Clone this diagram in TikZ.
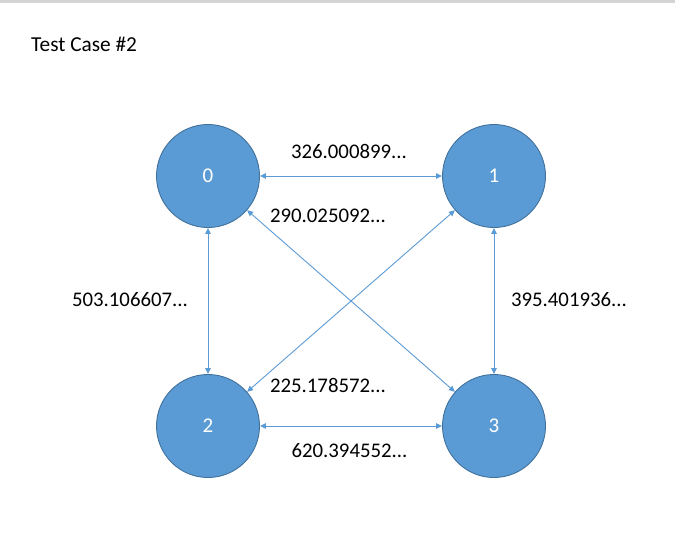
\documentclass[tikz,border=0pt]{standalone}
\usepackage{fontspec}
\setmainfont{Carlito}
\usetikzlibrary{arrows.meta}
\definecolor{nodefill}{HTML}{5B9BD5}
\definecolor{nodeedge}{HTML}{41719C}
\definecolor{edgecol}{HTML}{5B9BD5}
\definecolor{topline}{HTML}{D4D4D4}
\tikzset{
  vertex/.style={circle, fill=nodefill, draw=nodeedge, line width=0.9pt,
    minimum size=103pt, inner sep=0pt, text=white, font=\fontsize{21}{25}\selectfont},
  weight/.style={inner sep=0pt, text=black, font=\fontsize{20.8}{25}\selectfont},
  title/.style={inner sep=0pt, anchor=west, text=black, font=\fontsize{21.3}{25}\selectfont},
  link/.style={draw=edgecol, line width=0.9pt,
    {Triangle[length=6pt,width=5.5pt]}-{Triangle[length=6pt,width=5.5pt]}}
}
\begin{document}
\begin{tikzpicture}[x=1pt,y=-1pt]
\useasboundingbox (0,0) rectangle (675,552);
\fill[white] (0,0) rectangle (675,552);
\fill[topline] (0,0) rectangle (675,2.5);
\node[title] (t) at (31,44) {Test Case \#2};
\node[vertex] (n0) at (208,176) {0};
\node[vertex] (n1) at (494,176) {1};
\node[vertex] (n2) at (208,426) {2};
\node[vertex] (n3) at (494,426) {3};
\draw[link] (n0) -- (n1);
\draw[link] (n0) -- (n2);
\draw[link] (n0) -- (n3);
\draw[link] (n1) -- (n2);
\draw[link] (n1) -- (n3);
\draw[link] (n2) -- (n3);
\node[weight] (w01) at (349,151) {326.000899...};
\node[weight] (w03) at (328,216) {290.025092...};
\node[weight] (w02) at (130,300) {503.106607...};
\node[weight] (w13) at (569,300) {395.401936...};
\node[weight] (w12) at (328,385) {225.178572...};
\node[weight] (w23) at (349.5,451) {620.394552...};
\end{tikzpicture}
\end{document}
